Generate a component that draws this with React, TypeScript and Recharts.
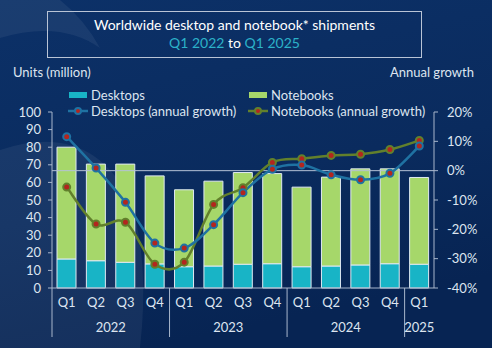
import React from 'react'
import { ComposedChart, Bar, Line, XAxis, YAxis, ReferenceLine } from 'recharts'

const quarters = ['Q1', 'Q2', 'Q3', 'Q4', 'Q1', 'Q2', 'Q3', 'Q4', 'Q1', 'Q2', 'Q3', 'Q4', 'Q1']
const years = ['2022', '2022', '2022', '2022', '2023', '2023', '2023', '2023', '2024', '2024', '2024', '2024', '2025']
const desktops = [16.5, 15.5, 14.6, 13.7, 12.1, 12.5, 13.5, 13.8, 12.1, 12.5, 13.1, 13.8, 13.5]
const notebooks = [63.5, 54.9, 55.8, 50.0, 43.7, 48.2, 52.1, 51.2, 45.2, 50.5, 54.6, 53.9, 49.3]
const desktopGrowth = [11.6, 0.9, -10.8, -24.7, -26.4, -18.4, -7.5, 0.5, 1.9, -1.4, -3.1, -0.9, 8.4]
const notebookGrowth = [-5.6, -18.2, -17.6, -31.9, -31.2, -11.5, -5.8, 2.8, 4.1, 5.2, 5.6, 7.2, 10.3]
const unitTicks = [0, 10, 20, 30, 40, 50, 60, 70, 80, 90, 100]
const growthTicks = [-40, -30, -20, -10, 0, 10, 20]

const data = quarters.map((q, i) => ({
  key: `${q} ${years[i]}`,
  quarter: q,
  year: years[i],
  desktops: desktops[i],
  notebooks: notebooks[i],
  desktopGrowth: desktopGrowth[i],
  notebookGrowth: notebookGrowth[i],
}))

const W = 492
const H = 348
const LEFT = 52
const RIGHT_W = 58
const TOP = 112
const XAXIS_H = 60
const BAND = (W - LEFT - RIGHT_W) / quarters.length
const FONT = 'Lato, "Open Sans", sans-serif'
const TEXT = '#dde5f0'
const AXIS = '#a8b6cc'
const TEAL = '#18b4c6'
const GREEN = '#a6d76a'
const BLUE = '#1f72a2'
const OLIVE = '#62802c'
const RED = '#b3261e'

// excel-like smoothed line (catmull-rom)
const smooth = (context: any) => {
  let pts: number[][] = []
  return {
    areaStart() {},
    areaEnd() {},
    lineStart() { pts = [] },
    lineEnd() {
      if (!pts.length) return
      context.moveTo(pts[0][0], pts[0][1])
      for (let i = 0; i < pts.length - 1; i++) {
        const p0 = pts[i - 1] || pts[i]
        const p1 = pts[i]
        const p2 = pts[i + 1]
        const p3 = pts[i + 2] || p2
        context.bezierCurveTo(
          p1[0] + (p2[0] - p0[0]) / 6, p1[1] + (p2[1] - p0[1]) / 6,
          p2[0] - (p3[0] - p1[0]) / 6, p2[1] - (p3[1] - p1[1]) / 6,
          p2[0], p2[1],
        )
      }
    },
    point(x: number, y: number) { pts.push([x, +y]) },
  }
}

function QuarterTick(props: any) {
  const { x, payload, index } = props
  const base = H - XAXIS_H
  const row = data[index] || data.find(d => d.key === payload.value)
  const first = index === 0 || years[index - 1] !== years[index]
  const groupSize = years.filter(y => y === years[index]).length
  return (
    <g>
      <text x={x} y={base + 19} textAnchor="middle" fill={TEXT} fontSize={13} fontFamily={FONT}>{row ? row.quarter : ''}</text>
      {first && (
        <>
          <line x1={x - BAND / 2} x2={x - BAND / 2} y1={base} y2={base + 49} stroke={AXIS} strokeWidth={1} />
          <text x={x - BAND / 2 + (groupSize * BAND) / 2} y={base + 44} textAnchor="middle" fill={TEXT} fontSize={13} fontFamily={FONT}>{years[index]}</text>
        </>
      )}
    </g>
  )
}

function Background() {
  return (
    <svg width={W} height={H} style={{ position: 'absolute', left: 0, top: 0 }}>
      <defs>
        <linearGradient id="bg" x1="0" y1="0" x2="0.3" y2="1">
          <stop offset="0" stopColor="#0c3168" />
          <stop offset="0.6" stopColor="#0a2b5e" />
          <stop offset="1" stopColor="#072453" />
        </linearGradient>
      </defs>
      <rect width={W} height={H} fill="url(#bg)" />
      <path d="M0 0 L60 0 Q85 20 100 48 Q60 20 0 38 Z" fill="#ffffff" opacity={0.06} />
      <path d="M0 150 Q90 120 130 200 Q150 260 140 348 L0 348 Z" fill="#ffffff" opacity={0.06} />
    </svg>
  )
}

function LegendLine({ color }: { color: string }) {
  return (
    <svg width={20} height={10} style={{ position: 'absolute', left: 0, top: -5 }}>
      <line x1={0} x2={20} y1={5} y2={5} stroke={color} strokeWidth={2.5} />
      <circle cx={10} cy={5} r={3} fill={RED} stroke={color} strokeWidth={2} />
    </svg>
  )
}

export default function App() {
  const label: React.CSSProperties = { position: 'absolute', color: TEXT, fontFamily: FONT, fontSize: 13, whiteSpace: 'nowrap', lineHeight: '16px' }
  return (
    <div style={{ position: 'absolute', left: 0, top: 0, width: W, height: H, overflow: 'hidden' }}>
      <Background />
      <div style={{ position: 'absolute', left: 47, top: 11, width: 375, height: 47, border: '1px solid #b9c4d6', boxSizing: 'border-box' }} />
      <div style={{ ...label, left: 47, width: 375, top: 17, textAlign: 'center', color: '#ffffff', fontSize: 14 }}>Worldwide desktop and notebook* shipments</div>
      <div style={{ ...label, left: 47, width: 375, top: 35, textAlign: 'center', color: '#ffffff', fontSize: 14 }}>
        <span style={{ color: '#2cb2c9' }}>Q1 2022</span> to <span style={{ color: '#2cb2c9' }}>Q1 2025</span>
      </div>
      <div style={{ ...label, left: 13, top: 64 }}>Units (million)</div>
      <div style={{ ...label, right: 18, top: 64 }}>Annual growth</div>

      <div style={{ position: 'absolute', left: 69, top: 92, width: 18, height: 6, background: TEAL }} />
      <div style={{ ...label, left: 91, top: 87 }}>Desktops</div>
      <div style={{ position: 'absolute', left: 249, top: 92, width: 18, height: 6, background: GREEN }} />
      <div style={{ ...label, left: 271, top: 87 }}>Notebooks</div>
      <div style={{ position: 'absolute', left: 68, top: 111 }}><LegendLine color={BLUE} /></div>
      <div style={{ ...label, left: 91, top: 103 }}>Desktops (annual growth)</div>
      <div style={{ position: 'absolute', left: 248, top: 111 }}><LegendLine color={OLIVE} /></div>
      <div style={{ ...label, left: 271, top: 103 }}>Notebooks (annual growth)</div>

      <div style={{ position: 'absolute', left: 0, top: 0 }}>
        <ComposedChart width={W} height={H} data={data} margin={{ top: TOP, right: 0, bottom: 0, left: 0 }}>
          <XAxis dataKey="key" xAxisId={0} height={XAXIS_H} interval={0} tickLine={false} tickSize={0}
            axisLine={{ stroke: AXIS }} tick={<QuarterTick />} />
          <YAxis yAxisId="units" orientation="left" width={LEFT} domain={[0, 100]} ticks={unitTicks} interval={0}
            tick={{ fill: TEXT, fontSize: 13, fontFamily: FONT }} tickSize={4} tickMargin={7}
            axisLine={{ stroke: AXIS }} tickLine={{ stroke: AXIS }} />
          <YAxis yAxisId="growth" orientation="right" width={RIGHT_W} domain={[-40, 20]} ticks={growthTicks} interval={0}
            tickFormatter={(v: number) => `${v}%`}
            tick={{ fill: TEXT, fontSize: 13, fontFamily: FONT, textAnchor: 'start' }} tickSize={4} tickMargin={9}
            axisLine={{ stroke: AXIS }} tickLine={{ stroke: AXIS }} />
          <Bar yAxisId="units" dataKey="desktops" stackId="a" fill={TEAL} stroke="#dfe9f2" strokeWidth={1} barSize={19} isAnimationActive={false} />
          <Bar yAxisId="units" dataKey="notebooks" stackId="a" fill={GREEN} stroke="#dfe9f2" strokeWidth={1} barSize={19} isAnimationActive={false} />
          <ReferenceLine yAxisId="growth" y={0} stroke="#b5c2d6" strokeWidth={1} />
          <Line yAxisId="growth" dataKey="notebookGrowth" type={smooth as any} stroke={OLIVE} strokeWidth={2.5}
            dot={{ r: 3.5, fill: RED, stroke: OLIVE, strokeWidth: 2 }} isAnimationActive={false} />
          <Line yAxisId="growth" dataKey="desktopGrowth" type={smooth as any} stroke={BLUE} strokeWidth={2.5}
            dot={{ r: 3.5, fill: RED, stroke: BLUE, strokeWidth: 2 }} isAnimationActive={false} />
        </ComposedChart>
      </div>
    </div>
  )
}
